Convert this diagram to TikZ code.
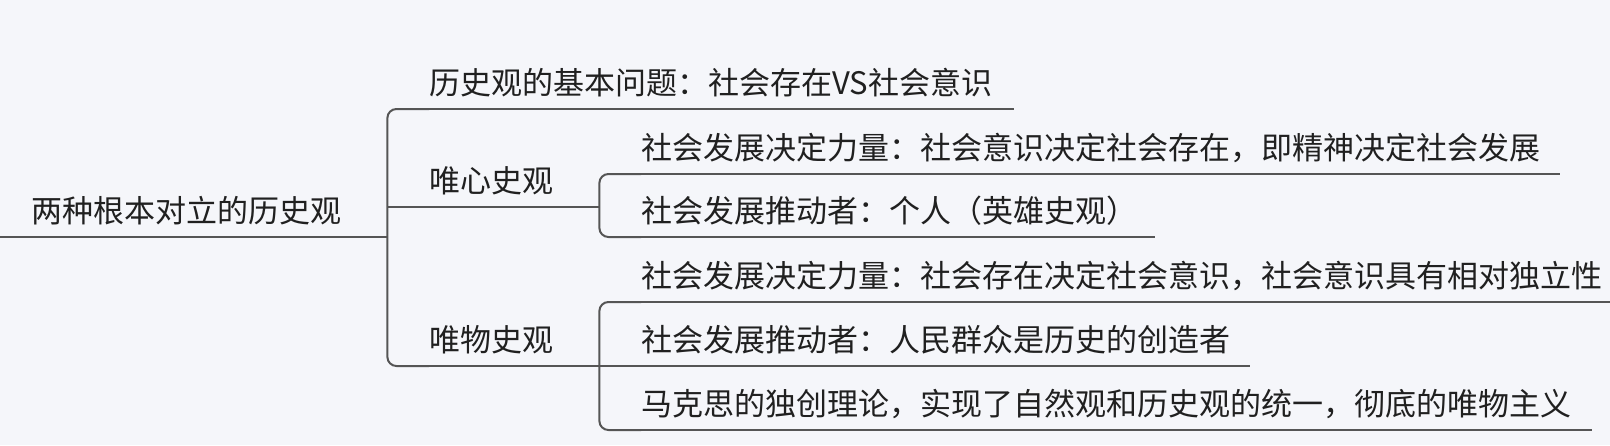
\documentclass[tikz,border=0pt]{standalone}
\usepackage{fontspec}
\newfontfamily\cjk{Noto Sans CJK SC}
\definecolor{bg}{HTML}{F5F6FA}
\definecolor{linegray}{HTML}{555555}
\definecolor{textgray}{HTML}{202020}

\begin{document}
\begin{tikzpicture}[x=1pt,y=-1pt,
  topic/.style={anchor=south west, inner sep=0pt, text depth=14pt, font=\cjk\fontsize{31}{36}\selectfont, text=textgray},
  branch/.style={draw=linegray, line width=2pt, rounded corners=9pt}]

\fill[bg] (0,0) rectangle (1610,445);
\useasboundingbox (0,0) rectangle (1610,445);

% root
\coordinate (start) at (0,237);
\node[topic, text width=356pt] (root) at (31,237) {两种根本对立的历史观};

% first level
\node[topic, text width=585pt] (basic) at (429,109) {历史观的基本问题：社会存在VS社会意识};
\node[topic, text width=170pt] (ideal) at (429,207) {唯心史观};
\node[topic, text width=170pt] (mater) at (429,366) {唯物史观};

% second level
\node[topic, text width=919pt] (ideal1) at (641,174) {社会发展决定力量：社会意识决定社会存在，即精神决定社会发展};
\node[topic, text width=514pt] (ideal2) at (641,237) {社会发展推动者：个人（英雄史观）};
\node[topic, text width=969pt] (mater1) at (641,302) {社会发展决定力量：社会存在决定社会意识，社会意识具有相对独立性};
\node[topic, text width=609pt] (mater2) at (641,366) {社会发展推动者：人民群众是历史的创造者};
\node[topic, text width=951pt] (mater3) at (641,430) {马克思的独创理论，实现了自然观和历史观的统一，彻底的唯物主义};

% underlines
\draw[branch] (start) -- (root.south east);
\foreach \n in {basic,ideal,mater,ideal1,ideal2,mater1,mater2,mater3}
  \draw[branch] (\n.south west) -- (\n.south east);

% brackets
\draw[branch] (basic.south west) -| (root.south east) |- (mater.south west);
\draw[branch] (root.south east |- ideal.south west) -- (ideal.south west);
\draw[branch] (ideal1.south west) -| (ideal.south east) |- (ideal2.south west);
\draw[branch] (mater1.south west) -| (mater.south east) |- (mater3.south west);
\draw[branch] (mater.south east) -- (mater2.south west);

\end{tikzpicture}
\end{document}
